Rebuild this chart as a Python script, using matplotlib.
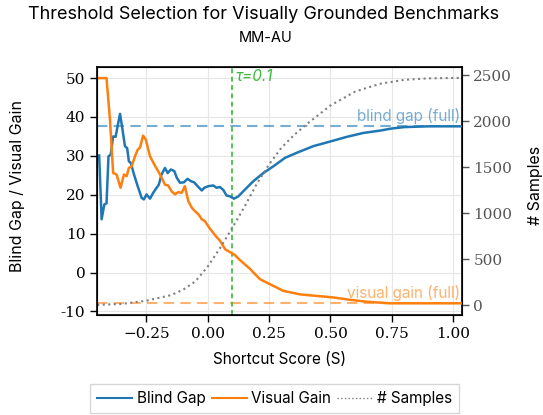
import numpy as np
import matplotlib
matplotlib.use("Agg")
import matplotlib.pyplot as plt
from matplotlib.lines import Line2D

# data
blind_x = [-0.442, -0.432, -0.421, -0.412, -0.404, -0.395, -0.385, -0.375, -0.367, -0.357,
           -0.348, -0.337, -0.328, -0.321, -0.313, -0.300, -0.285, -0.269, -0.260, -0.249,
           -0.235, -0.222, -0.208, -0.199, -0.188, -0.174, -0.163, -0.150, -0.136, -0.126,
           -0.113, -0.097, -0.082, -0.068, -0.055, -0.041, -0.024, -0.014, 0.002, 0.023,
           0.036, 0.050, 0.064, 0.077, 0.091, 0.107, 0.125, 0.145, 0.186, 0.227,
           0.267, 0.315, 0.363, 0.430, 0.499, 0.567, 0.634, 0.702, 0.745, 0.800,
           0.900, 1.034]
blind_gap = [30.1, 13.7, 17.5, 17.8, 29.9, 30.3, 35.0, 34.9, 37.6, 40.8,
             37.2, 32.5, 32.0, 28.6, 28.2, 25.2, 22.2, 19.2, 18.8, 20.1,
             19.0, 20.5, 21.8, 22.6, 25.2, 26.9, 25.6, 26.5, 26.1, 24.4,
             23.1, 23.2, 24.1, 23.5, 23.2, 22.2, 21.1, 21.8, 22.2, 22.4,
             21.8, 22.0, 21.2, 19.8, 19.6, 19.0, 19.6, 20.9, 23.5, 25.6,
             27.3, 29.5, 30.8, 32.5, 33.7, 34.9, 35.9, 36.5, 37.0, 37.4,
             37.6, 37.6]

vis_x = [-0.446, -0.412, -0.398, -0.385, -0.371, -0.355, -0.341, -0.330, -0.321, -0.310,
         -0.296, -0.285, -0.276, -0.263, -0.252, -0.235, -0.215, -0.194, -0.174, -0.161,
         -0.147, -0.133, -0.120, -0.106, -0.093, -0.079, -0.065, -0.052, -0.038, -0.024,
         -0.011, 0.007, 0.030, 0.050, 0.071, 0.090, 0.111, 0.130, 0.159, 0.173,
         0.213, 0.254, 0.308, 0.376, 0.444, 0.512, 0.580, 0.648, 0.743, 1.034]
visual_gain = [50.0, 50.0, 39.3, 25.6, 25.2, 21.8, 25.2, 24.8, 26.9, 27.3,
               29.9, 31.6, 32.1, 35.2, 34.2, 29.9, 27.5, 25.2, 22.6, 22.4,
               20.9, 20.1, 20.7, 20.5, 22.2, 18.4, 16.7, 15.8, 15.0, 13.7,
               13.2, 11.5, 9.6, 8.2, 6.0, 5.3, 4.5, 3.3, 1.7, 0.9,
               -1.7, -3.0, -4.7, -5.6, -6.0, -6.4, -7.0, -7.5, -7.9, -7.9]

samp_x = [-0.45, -0.35, -0.25, -0.15, -0.10, -0.05, 0.0, 0.05, 0.10, 0.15,
          0.20, 0.25, 0.30, 0.35, 0.40, 0.50, 0.60, 0.70, 0.80, 0.90, 1.034]
n_samples = [5, 15, 50, 110, 170, 260, 420, 620, 840, 1070,
             1320, 1530, 1710, 1845, 1960, 2170, 2320, 2405, 2448, 2465, 2470]

blind_full = 37.6
visual_full = -7.9
tau = 0.1

fig = plt.figure(figsize=(5.43, 4.15), dpi=100)
ax = fig.add_axes([0.179, 0.241, 0.671, 0.598])
ax2 = ax.twinx()

serif = "DejaVu Serif"
sans = "Inter"

ax.grid(True, color="#e6e6e6", linewidth=0.8)
ax.set_axisbelow(True)

ax.axhline(blind_full, color="#1f77b4", ls="--", lw=1.5, alpha=0.6, dashes=(5, 3))
ax.axhline(visual_full, color="#ff7f0e", ls="--", lw=1.5, alpha=0.6, dashes=(5, 3))
ax.plot(blind_x, blind_gap, color="#1f77b4", lw=1.8, zorder=3)
ax.plot(vis_x, visual_gain, color="#ff7f0e", lw=1.8, zorder=3)
ax.axvline(tau, color="#3cba3c", ls="--", lw=1.2, dashes=(3, 2))

ax2.plot(samp_x, n_samples, color="gray", ls=":", lw=1.5)

ax.set_xlim(-0.45, 1.034)
ax.set_ylim(-10.9, 52.9)
ax2.set_ylim(-105, 2590)

ax.set_xticks([-0.25, 0.0, 0.25, 0.5, 0.75, 1.0])
ax.set_xticklabels(["\u22120.25", "0.00", "0.25", "0.50", "0.75", "1.00"])
ax.set_yticks([-10, 0, 10, 20, 30, 40, 50])
ax.set_yticklabels(["-10", "0", "10", "20", "30", "40", "50"])
ax2.set_yticks([0, 500, 1000, 1500, 2000, 2500])

for a in (ax, ax2):
    for lab in a.get_xticklabels() + a.get_yticklabels():
        lab.set_fontfamily(serif)
        lab.set_fontsize(11)
    a.tick_params(length=5, width=1)
ax2.tick_params(axis="y", colors="#555555")
for lab in ax2.get_yticklabels():
    lab.set_color("#555555")
for s in ax.spines.values():
    s.set_linewidth(1.2)

ax.text(tau + 0.012, 50.3, "\u03c4=0.1", color="#3cba3c", fontsize=11,
        fontfamily=sans, style="italic", va="center")
ax.text(1.027, blind_full + 0.6, "blind gap (full)", color="#1f77b4", alpha=0.6,
        fontsize=11, fontfamily=sans, ha="right", va="bottom")
ax.text(1.027, visual_full + 0.6, "visual gain (full)", color="#ff7f0e", alpha=0.6,
        fontsize=11, fontfamily=sans, ha="right", va="bottom")

ax.set_xlabel("Shortcut Score (S)", fontfamily=sans, fontsize=11, labelpad=8)
ax.set_ylabel("Blind Gap / Visual Gain", fontfamily=sans, fontsize=11.5)
ax2.set_ylabel("# Samples", fontfamily=sans, fontsize=11.5)
ax.yaxis.set_label_coords(-0.198, 0.52)
ax2.yaxis.set_label_coords(1.183, 0.52)

fig.text(0.485, 0.965, "Threshold Selection for Visually Grounded Benchmarks",
         ha="center", va="center", fontfamily=sans, fontsize=13)
fig.text(0.49, 0.908, "MM-AU", ha="center", va="center", fontfamily=sans, fontsize=10.5)

handles = [Line2D([], [], color="#1f77b4", lw=1.5),
           Line2D([], [], color="#ff7f0e", lw=1.5),
           Line2D([], [], color="gray", ls=":", lw=1.0)]
fig.legend(handles, ["Blind Gap", "Visual Gain", "# Samples"], loc="center",
           bbox_to_anchor=(0.506, 0.04), ncol=3, frameon=True, fancybox=False,
           prop={"family": sans, "size": 11}, handlelength=2.3, handletextpad=0.3,
           columnspacing=0.4, borderpad=0.45, edgecolor="#cccccc")

fig.savefig("out.png", dpi=100)
